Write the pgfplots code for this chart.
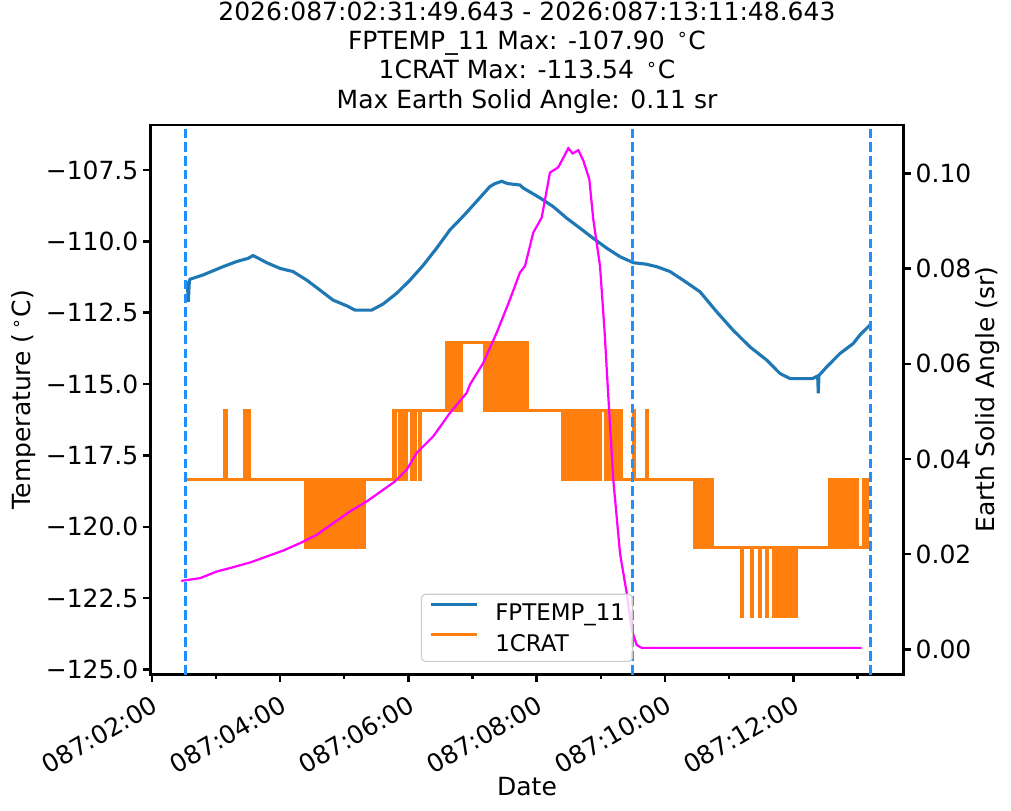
\documentclass[border=0pt]{standalone}
\usepackage{fontspec}
\setmainfont{DejaVu Sans}
\usepackage{pgfplots}
\pgfplotsset{compat=1.18}
\definecolor{mplblue}{HTML}{1F77B4}
\definecolor{mplorange}{HTML}{FF7F0E}
\definecolor{dodger}{HTML}{1E90FF}
\definecolor{mplmagenta}{HTML}{FF00FF}
\newcommand{\dg}{\textsuperscript{∘}}
\newcommand{\tickfont}{\fontsize{18bp}{21.6bp}\selectfont}
\newcommand{\legfont}{\fontsize{16.5bp}{19.8bp}\selectfont}
\newcommand{\labfont}{\fontsize{18bp}{21.1bp}\selectfont}
\pgfplotsset{
  common/.style={
    width=542.16bp, height=395.64bp, scale only axis,
    at={(0,0)}, anchor=south west,
    xmin=1.98, xmax=13.718,
    axis line style={line width=1.875bp},
    tick style={black, line width=1.8bp},
    major tick length=5.25bp, minor tick length=3bp,
    tick align=outside,
    ticklabel style={font=\tickfont},
    label style={font=\labfont},
  }
}
\begin{document}
\begin{tikzpicture}
\path[use as bounding box] (-108.36bp,-98.28bp) rectangle (619.56bp,485.64bp);
\begin{axis}[common,
  ymin=-125.175, ymax=-105.927,
  xtick pos=bottom, ytick pos=left,
  xtick={2,4,6,8,10,12},
  xticklabels={087:02:00,087:04:00,087:06:00,087:08:00,087:10:00,087:12:00},
  minor xtick={3,5,7,9,11,13},
  xticklabel style={rotate=30, anchor=north east, xshift=-2bp, yshift=-4bp},
  ytick={-125,-122.5,-120,-117.5,-115,-112.5,-110,-107.5},
  yticklabels={−125.0,−122.5,−120.0,−117.5,−115.0,−112.5,−110.0,−107.5},
  ylabel={Temperature (\,\dg C)},
  ylabel style={at={(axis description cs:-0.168,0.5)}, anchor=center, rotate=0},
  xlabel={Date},
  xlabel style={at={(axis description cs:0.5,0)}, anchor=center, yshift=-81bp},
  title={2026:087:02:31:49.643 - 2026:087:13:11:48.643\\FPTEMP\_11 Max: -107.90 \,\dg C\\1CRAT Max: -113.54 \,\dg C\\Max Earth Solid Angle: 0.11 sr},
  title style={at={(axis description cs:0.5,1)}, anchor=south, align=center, inner sep=0pt, yshift=2.3bp, font=\labfont},
]
\addplot[mplblue, line width=2.25bp] coordinates {
(2.5305,-111.46) (2.555,-111.46) (2.57,-112.12) (2.585,-111.40) (2.5955,-111.33) (2.798,-111.18) (3.110,-110.89) (3.323,-110.71) (3.50,-110.60) (3.578,-110.50) (3.65,-110.58) (3.791,-110.75) (3.998,-110.95) (4.201,-111.06) (4.415,-111.36) (4.622,-111.71) (4.825,-112.06) (5.038,-112.26) (5.168,-112.41) (5.428,-112.41) (5.604,-112.20) (5.818,-111.82) (6.025,-111.36) (6.228,-110.85) (6.441,-110.24) (6.648,-109.60) (6.851,-109.13) (7.065,-108.60) (7.272,-108.08) (7.35,-107.98) (7.454,-107.90) (7.55,-107.98) (7.74,-108.03) (7.786,-108.13) (8.051,-108.48) (8.254,-108.78) (8.468,-109.19) (8.675,-109.54) (8.878,-109.89) (9.091,-110.24) (9.299,-110.54) (9.506,-110.75) (9.70,-110.80) (9.871,-110.89) (10.078,-111.06) (10.281,-111.36) (10.546,-111.77) (10.806,-112.47) (11.060,-113.11) (11.325,-113.70) (11.585,-114.16) (11.792,-114.63) (11.948,-114.81) (12.30,-114.81) (12.38,-114.72) (12.39,-115.33) (12.40,-114.70) (12.521,-114.40) (12.728,-113.93) (12.935,-113.58) (13.040,-113.28) (13.1968,-112.93)
};
\addplot[mplorange, line width=2.25bp, const plot] coordinates {
(2.5305,-118.34)
(3.13,-115.94) (3.16,-118.34)
(3.45,-115.94) (3.47,-118.34) (3.49,-115.94) (3.53,-118.34)
(4.39,-120.74) (4.41,-118.34) (4.43,-120.74) (4.45,-118.34) (4.47,-120.74) (4.49,-118.34) (4.50,-120.74) (4.515,-118.34)
(4.56,-120.74) (4.575,-118.34) (4.59,-120.74) (4.605,-118.34) (4.62,-120.74) (4.64,-118.34) (4.655,-120.74) (4.67,-118.34) (4.685,-120.74) (4.70,-118.34) (4.715,-120.74) (4.73,-118.34) (4.75,-120.74) (4.765,-118.34) (4.78,-120.74) (4.80,-118.34) (4.815,-120.74) (4.83,-118.34) (4.845,-120.74) (4.86,-118.34) (4.875,-120.74) (4.89,-118.34) (4.905,-120.74) (4.92,-118.34) (4.935,-120.74) (4.95,-118.34) (4.965,-120.74) (4.98,-118.34) (5.0,-120.74) (5.015,-118.34) (5.03,-120.74) (5.045,-118.34) (5.06,-120.74) (5.075,-118.34) (5.09,-120.74) (5.11,-118.34) (5.125,-120.74) (5.14,-118.34) (5.16,-120.74) (5.175,-118.34) (5.19,-120.74) (5.205,-118.34) (5.22,-120.74) (5.245,-118.34)
(5.30,-120.74) (5.315,-118.34)
(5.765,-115.94) (5.79,-118.34) (5.805,-115.94) (5.87,-118.34) (5.885,-115.94) (5.90,-118.34) (5.915,-115.94) (5.93,-118.34) (5.945,-115.94) (5.96,-118.34) (5.975,-115.94) (6.05,-118.34) (6.065,-115.94) (6.10,-118.34) (6.11,-115.94) (6.175,-118.34) (6.19,-115.94)
(6.597,-113.54) (6.61,-115.94) (6.625,-113.54) (6.64,-115.94) (6.655,-113.54) (6.665,-115.94) (6.69,-113.54) (6.70,-115.94) (6.715,-113.54) (6.73,-115.94) (6.745,-113.54) (6.76,-115.94) (6.775,-113.54) (6.79,-115.94) (6.805,-113.54) (6.82,-115.94) (6.831,-113.54)
(7.194,-115.94) (7.21,-113.54) (7.225,-115.94) (7.24,-113.54) (7.26,-115.94) (7.275,-113.54) (7.29,-115.94) (7.305,-113.54) (7.32,-115.94) (7.335,-113.54) (7.35,-115.94) (7.365,-113.54) (7.38,-115.94) (7.395,-113.54) (7.41,-115.94) (7.425,-113.54) (7.44,-115.94) (7.455,-113.54) (7.47,-115.94) (7.485,-113.54) (7.50,-115.94) (7.515,-113.54) (7.53,-115.94) (7.545,-113.54) (7.56,-115.94) (7.575,-113.54) (7.59,-115.94) (7.605,-113.54) (7.62,-115.94) (7.635,-113.54) (7.65,-115.94) (7.665,-113.54) (7.68,-115.94) (7.695,-113.54) (7.71,-115.94) (7.725,-113.54) (7.74,-115.94) (7.755,-113.54) (7.767,-115.94)
(7.79,-113.54) (7.80,-115.94) (7.84,-113.54) (7.85,-115.94)
(8.405,-118.34) (8.42,-115.94) (8.435,-118.34) (8.45,-115.94) (8.46,-118.34) (8.475,-115.94) (8.52,-118.34) (8.535,-115.94) (8.55,-118.34) (8.565,-115.94) (8.575,-118.34) (8.59,-115.94) (8.605,-118.34) (8.62,-115.94) (8.635,-118.34) (8.65,-115.94) (8.665,-118.34) (8.68,-115.94) (8.695,-118.34) (8.71,-115.94) (8.725,-118.34) (8.74,-115.94) (8.755,-118.34) (8.77,-115.94) (8.785,-118.34) (8.80,-115.94) (8.815,-118.34) (8.83,-115.94) (8.845,-118.34) (8.86,-115.94) (8.875,-118.34) (8.89,-115.94) (8.905,-118.34) (8.92,-115.94) (8.935,-118.34) (8.95,-115.94) (8.965,-118.34) (8.987,-115.94)
(9.08,-118.34) (9.095,-115.94) (9.11,-118.34) (9.125,-115.94) (9.14,-118.34) (9.17,-115.94)
(9.21,-118.34) (9.225,-115.94) (9.24,-118.34) (9.255,-115.94) (9.27,-118.34) (9.285,-115.94) (9.30,-118.34) (9.31,-115.94) (9.325,-118.34)
(9.51,-115.94) (9.525,-118.34) (9.717,-115.94) (9.73,-118.34)
(10.468,-120.74) (10.48,-118.34) (10.50,-120.74) (10.515,-118.34) (10.53,-120.74) (10.545,-118.34) (10.56,-120.74) (10.575,-118.34) (10.59,-120.74) (10.605,-118.34) (10.62,-120.74) (10.635,-118.34) (10.65,-120.74) (10.665,-118.34) (10.68,-120.74) (10.695,-118.34) (10.71,-120.74) (10.725,-118.34) (10.744,-120.74)
(11.19,-123.14) (11.205,-120.74) (11.345,-123.14) (11.36,-120.74) (11.475,-123.14) (11.49,-120.74) (11.58,-123.14) (11.595,-120.74) (11.685,-123.14) (11.70,-120.74) (11.715,-123.14) (11.73,-120.74) (11.745,-123.14) (11.76,-120.74) (11.775,-123.14) (11.79,-120.74) (11.805,-123.14) (11.82,-120.74) (11.835,-123.14) (11.85,-120.74) (11.865,-123.14) (11.88,-120.74) (11.895,-123.14) (11.91,-120.74) (11.925,-123.14) (11.94,-120.74) (11.955,-123.14) (11.97,-120.74) (11.985,-123.14) (12.00,-120.74) (12.015,-123.14) (12.042,-120.74)
(12.561,-118.34) (12.575,-120.74) (12.59,-118.34) (12.605,-120.74) (12.62,-118.34) (12.65,-120.74) (12.665,-118.34) (12.68,-120.74) (12.695,-118.34) (12.71,-120.74) (12.725,-118.34) (12.74,-120.74) (12.755,-118.34) (12.78,-120.74) (12.795,-118.34) (12.81,-120.74) (12.825,-118.34) (12.84,-120.74) (12.855,-118.34) (12.87,-120.74) (12.885,-118.34) (12.90,-120.74) (12.915,-118.34) (12.93,-120.74) (12.945,-118.34) (12.96,-120.74) (12.975,-118.34) (12.998,-120.74) (13.09,-118.34) (13.105,-120.74) (13.12,-118.34) (13.135,-120.74) (13.15,-118.34) (13.1968,-118.34)
};
\addplot[dodger, line width=2.2bp, dash pattern=on 6.9bp off 3bp] coordinates {(2.5305,-125.175) (2.5305,-105.927)};
\addplot[dodger, line width=2.2bp, dash pattern=on 6.9bp off 3bp] coordinates {(9.49,-125.175) (9.49,-105.927)};
\addplot[dodger, line width=2.2bp, dash pattern=on 6.9bp off 3bp] coordinates {(13.1968,-125.175) (13.1968,-105.927)};
\end{axis}
\begin{axis}[common,
  ymin=-0.005296, ymax=0.11019,
  axis x line=none, axis y line*=right,
  ytick={0,0.02,0.04,0.06,0.08,0.10},
  yticklabels={0.00,0.02,0.04,0.06,0.08,0.10},
  ylabel={Earth Solid Angle (sr)},
  ylabel style={at={(axis description cs:1.112,0.5)}, anchor=center, rotate=0},
  legend style={at={(axis description cs:0.5,0)}, anchor=south, yshift=9bp,
    font=\legfont, draw=black!20, line width=0.8bp, rounded corners=3bp,
    fill=white, fill opacity=0.8, text opacity=1,
    inner xsep=5.5bp, inner ysep=6bp, row sep=7.5bp, column sep=12bp,
    nodes={inner sep=0pt}, cells={anchor=west}},
  legend image code/.code={\draw[#1] (0bp,6.5bp) -- (33.5bp,6.5bp);},
]
\addlegendimage{mplblue, line width=2.25bp}
\addlegendentry{FPTEMP\_11}
\addlegendimage{mplorange, line width=2.25bp}
\addlegendentry{1CRAT}
\addplot[mplmagenta, line width=1.6bp, forget plot] coordinates {
(2.46,0.01438) (2.751,0.01495) (3.012,0.01634) (3.270,0.01726) (3.531,0.01824) (3.791,0.0195) (4.050,0.02076) (4.310,0.02231) (4.571,0.02406) (4.829,0.02652) (5.090,0.02897) (5.350,0.03107) (5.609,0.03354) (5.791,0.03528) (5.974,0.03775) (6.129,0.04126) (6.388,0.04476) (6.648,0.04968) (6.909,0.05389) (6.960,0.05564) (7.168,0.06021) (7.376,0.06653) (7.584,0.07354) (7.740,0.0792) (7.818,0.08055) (7.947,0.08758) (8.078,0.09074) (8.207,0.1002) (8.337,0.1013) (8.493,0.1053) (8.561,0.1042) (8.649,0.1049) (8.727,0.1027) (8.820,0.0988) (8.882,0.0904) (8.987,0.08055) (9.06,0.0665) (9.101,0.0567) (9.194,0.0356) (9.299,0.0202) (9.403,0.0118) (9.481,0.0041) (9.559,0.0009) (9.637,0.0003) (13.066,0.0003)
};
\end{axis}
\end{tikzpicture}
\end{document}
